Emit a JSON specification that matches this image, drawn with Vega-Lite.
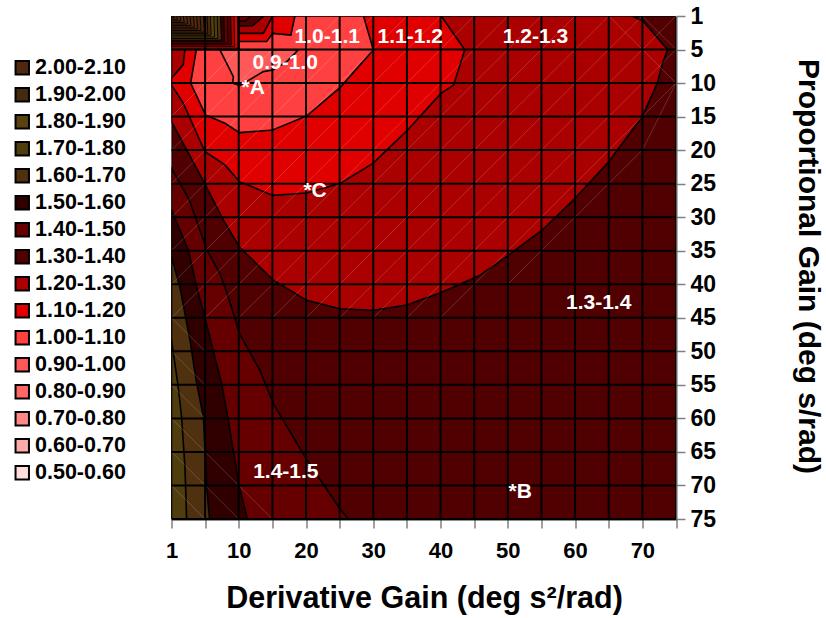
{"$schema":"https://vega.github.io/schema/vega-lite/v6.json","autosize":"none","width":504.5,"height":503,"padding":{"left":171.5,"top":16,"right":150,"bottom":99},"background":"white","view":{"stroke":null},
"config":{"font":"Liberation Sans"},
"datasets":{
"contours":[
{"p":"bg","b":"1.30-1.40","x":1,"y":1},{"p":"bg","b":"1.30-1.40","x":75,"y":1},{"p":"bg","b":"1.30-1.40","x":75,"y":75},{"p":"bg","b":"1.30-1.40","x":1,"y":75},
{"p":"l14","b":"1.40-1.50","x":1,"y":22.7},{"p":"l14","b":"1.40-1.50","x":3.12,"y":27.45},{"p":"l14","b":"1.40-1.50","x":5.25,"y":34.9},{"p":"l14","b":"1.40-1.50","x":7.2,"y":38.4},{"p":"l14","b":"1.40-1.50","x":8.45,"y":41.9},{"p":"l14","b":"1.40-1.50","x":10.1,"y":47.35},{"p":"l14","b":"1.40-1.50","x":13.15,"y":52.85},{"p":"l14","b":"1.40-1.50","x":15.15,"y":57.8},{"p":"l14","b":"1.40-1.50","x":19.85,"y":65.75},{"p":"l14","b":"1.40-1.50","x":25.05,"y":73.5},{"p":"l14","b":"1.40-1.50","x":26.3,"y":75},{"p":"l14","b":"1.40-1.50","x":1,"y":75},
{"p":"l15","b":"1.50-1.60","x":1,"y":28.95},{"p":"l15","b":"1.50-1.60","x":3,"y":34.9},{"p":"l15","b":"1.50-1.60","x":4,"y":40.4},{"p":"l15","b":"1.50-1.60","x":5,"y":45.1},{"p":"l15","b":"1.50-1.60","x":6.25,"y":50.1},{"p":"l15","b":"1.50-1.60","x":7.45,"y":54.8},{"p":"l15","b":"1.50-1.60","x":8.45,"y":60.3},{"p":"l15","b":"1.50-1.60","x":10.1,"y":70.25},{"p":"l15","b":"1.50-1.60","x":11.3,"y":75},{"p":"l15","b":"1.50-1.60","x":1,"y":75},
{"p":"l16","b":"1.60-1.70","x":1,"y":35.9},{"p":"l16","b":"1.60-1.70","x":2,"y":40.4},{"p":"l16","b":"1.60-1.70","x":3.2,"y":48.35},{"p":"l16","b":"1.60-1.70","x":4,"y":54.8},{"p":"l16","b":"1.60-1.70","x":4.8,"y":59.8},{"p":"l16","b":"1.60-1.70","x":5.25,"y":70.25},{"p":"l16","b":"1.60-1.70","x":5.65,"y":75},{"p":"l16","b":"1.60-1.70","x":1,"y":75},
{"p":"l17","b":"1.70-1.80","x":1,"y":48.35},{"p":"l17","b":"1.70-1.80","x":1.8,"y":55.3},{"p":"l17","b":"1.70-1.80","x":2.2,"y":59.8},{"p":"l17","b":"1.70-1.80","x":2.6,"y":67.25},{"p":"l17","b":"1.70-1.80","x":2.8,"y":75},{"p":"l17","b":"1.70-1.80","x":1,"y":75},
{"p":"l13","b":"1.20-1.30","x":1,"y":15.75},{"p":"l13","b":"1.20-1.30","x":4.96,"y":25},{"p":"l13","b":"1.20-1.30","x":7.7,"y":30.4},{"p":"l13","b":"1.20-1.30","x":10.1,"y":34.45},{"p":"l13","b":"1.20-1.30","x":15.15,"y":39.4},{"p":"l13","b":"1.20-1.30","x":20.1,"y":42.4},{"p":"l13","b":"1.20-1.30","x":25.05,"y":43.65},{"p":"l13","b":"1.20-1.30","x":30,"y":43.9},{"p":"l13","b":"1.20-1.30","x":35,"y":43.1},{"p":"l13","b":"1.20-1.30","x":40,"y":41.25},{"p":"l13","b":"1.20-1.30","x":45.9,"y":38.65},{"p":"l13","b":"1.20-1.30","x":50.1,"y":35.65},{"p":"l13","b":"1.20-1.30","x":55.1,"y":31.95},{"p":"l13","b":"1.20-1.30","x":60,"y":27.2},{"p":"l13","b":"1.20-1.30","x":65,"y":21.75},{"p":"l13","b":"1.20-1.30","x":70,"y":15},{"p":"l13","b":"1.20-1.30","x":72.2,"y":10.05},{"p":"l13","b":"1.20-1.30","x":73,"y":7.05},{"p":"l13","b":"1.20-1.30","x":73.75,"y":5.05},{"p":"l13","b":"1.20-1.30","x":70.2,"y":1.68},{"p":"l13","b":"1.20-1.30","x":68.5,"y":1},{"p":"l13","b":"1.20-1.30","x":1,"y":1},
{"p":"l12","b":"1.10-1.20","x":1,"y":10.3},{"p":"l12","b":"1.10-1.20","x":2.4,"y":13},{"p":"l12","b":"1.10-1.20","x":4.96,"y":20.2},{"p":"l12","b":"1.10-1.20","x":7.95,"y":22.2},{"p":"l12","b":"1.10-1.20","x":10.1,"y":24.7},{"p":"l12","b":"1.10-1.20","x":15.05,"y":26.75},{"p":"l12","b":"1.10-1.20","x":20.1,"y":26.4},{"p":"l12","b":"1.10-1.20","x":25.1,"y":24.95},{"p":"l12","b":"1.10-1.20","x":30,"y":21.95},{"p":"l12","b":"1.10-1.20","x":35.1,"y":17},{"p":"l12","b":"1.10-1.20","x":40.1,"y":11.5},{"p":"l12","b":"1.10-1.20","x":41.95,"y":10.3},{"p":"l12","b":"1.10-1.20","x":43.6,"y":5.05},{"p":"l12","b":"1.10-1.20","x":40.1,"y":1},{"p":"l12","b":"1.10-1.20","x":10,"y":1},{"p":"l12","b":"1.10-1.20","x":10,"y":5},{"p":"l12","b":"1.10-1.20","x":2.6,"y":5},{"p":"l12","b":"1.10-1.20","x":2.4,"y":7.25},{"p":"l12","b":"1.10-1.20","x":1,"y":9.3},
{"p":"l11","b":"1.00-1.10","x":3.28,"y":10},{"p":"l11","b":"1.00-1.10","x":5.05,"y":14.75},{"p":"l11","b":"1.00-1.10","x":7.95,"y":16},{"p":"l11","b":"1.00-1.10","x":10.1,"y":17.4},{"p":"l11","b":"1.00-1.10","x":15.05,"y":17},{"p":"l11","b":"1.00-1.10","x":20.1,"y":14.9},{"p":"l11","b":"1.00-1.10","x":25.1,"y":10.65},{"p":"l11","b":"1.00-1.10","x":30,"y":5.05},{"p":"l11","b":"1.00-1.10","x":28.55,"y":1},{"p":"l11","b":"1.00-1.10","x":10,"y":1},{"p":"l11","b":"1.00-1.10","x":10,"y":5},{"p":"l11","b":"1.00-1.10","x":3.96,"y":5},
{"p":"l10","b":"0.90-1.00","x":7.2,"y":5.05},{"p":"l10","b":"0.90-1.00","x":9.2,"y":9.05},{"p":"l10","b":"0.90-1.00","x":9.1,"y":10},{"p":"l10","b":"0.90-1.00","x":10.1,"y":10.4},{"p":"l10","b":"0.90-1.00","x":11.65,"y":9.5},{"p":"l10","b":"0.90-1.00","x":13.65,"y":8.3},{"p":"l10","b":"0.90-1.00","x":15.05,"y":8.05},{"p":"l10","b":"0.90-1.00","x":17.15,"y":6.8},{"p":"l10","b":"0.90-1.00","x":18.85,"y":5.05},
{"p":"t1","b":"1.10-1.20","x":10,"y":4.04},{"p":"t1","b":"1.10-1.20","x":14.15,"y":4.04},{"p":"t1","b":"1.10-1.20","x":15.05,"y":3.08},{"p":"t1","b":"1.10-1.20","x":17.75,"y":3.28},{"p":"t1","b":"1.10-1.20","x":18.35,"y":1},{"p":"t1","b":"1.10-1.20","x":10,"y":1},
{"p":"t2","b":"1.20-1.30","x":10,"y":3.08},{"p":"t2","b":"1.20-1.30","x":13.65,"y":3.08},{"p":"t2","b":"1.20-1.30","x":15.05,"y":1},{"p":"t2","b":"1.20-1.30","x":10,"y":1},
{"p":"t3","b":"1.30-1.40","x":10,"y":2.2},{"p":"t3","b":"1.30-1.40","x":12,"y":2.2},{"p":"t3","b":"1.30-1.40","x":13.75,"y":1},{"p":"t3","b":"1.30-1.40","x":10,"y":1},
{"p":"t4","b":"1.40-1.50","x":10,"y":1.6},{"p":"t4","b":"1.40-1.50","x":11,"y":1.6},{"p":"t4","b":"1.40-1.50","x":11.75,"y":1},{"p":"t4","b":"1.40-1.50","x":10,"y":1},
{"p":"base","b":"1.00-1.10","x":1,"y":1},{"p":"base","b":"1.00-1.10","x":10,"y":1},{"p":"base","b":"1.00-1.10","x":10,"y":5},{"p":"base","b":"1.00-1.10","x":1,"y":5}
],
"chev":[
{"p":"c0","b":"1.10-1.20","x":1,"y":1},{"p":"c0","b":"1.10-1.20","x":9.8,"y":1},{"p":"c0","b":"1.10-1.20","x":9.9,"y":4.84},{"p":"c0","b":"1.10-1.20","x":1,"y":4.84},
{"p":"c1","b":"1.20-1.30","x":1,"y":1},{"p":"c1","b":"1.20-1.30","x":9.3,"y":1},{"p":"c1","b":"1.20-1.30","x":9.4,"y":4.65},{"p":"c1","b":"1.20-1.30","x":1,"y":4.65},
{"p":"c2","b":"1.30-1.40","x":1,"y":1},{"p":"c2","b":"1.30-1.40","x":8.8,"y":1},{"p":"c2","b":"1.30-1.40","x":8.9,"y":4.46},{"p":"c2","b":"1.30-1.40","x":1,"y":4.46},
{"p":"c3","b":"1.40-1.50","x":1,"y":1},{"p":"c3","b":"1.40-1.50","x":8.3,"y":1},{"p":"c3","b":"1.40-1.50","x":8.4,"y":4.26},{"p":"c3","b":"1.40-1.50","x":1,"y":4.26},
{"p":"c4","b":"1.50-1.60","x":1,"y":1},{"p":"c4","b":"1.50-1.60","x":7.8,"y":1},{"p":"c4","b":"1.50-1.60","x":7.9,"y":4.07},{"p":"c4","b":"1.50-1.60","x":1,"y":4.07},
{"p":"c5","b":"1.60-1.70","x":1,"y":1},{"p":"c5","b":"1.60-1.70","x":7.3,"y":1},{"p":"c5","b":"1.60-1.70","x":7.4,"y":3.88},{"p":"c5","b":"1.60-1.70","x":1,"y":3.88},
{"p":"c6","b":"1.70-1.80","x":1,"y":1},{"p":"c6","b":"1.70-1.80","x":6.8,"y":1},{"p":"c6","b":"1.70-1.80","x":6.9,"y":3.69},{"p":"c6","b":"1.70-1.80","x":1,"y":3.69},
{"p":"c7","b":"1.80-1.90","x":1,"y":1},{"p":"c7","b":"1.80-1.90","x":6.3,"y":1},{"p":"c7","b":"1.80-1.90","x":6.4,"y":3.5},{"p":"c7","b":"1.80-1.90","x":1,"y":3.5},
{"p":"c8","b":"1.90-2.00","x":1,"y":1},{"p":"c8","b":"1.90-2.00","x":5.8,"y":1},{"p":"c8","b":"1.90-2.00","x":5.9,"y":3.3},{"p":"c8","b":"1.90-2.00","x":1,"y":3.3},
{"p":"c9","b":"2.00-2.10","x":1,"y":1},{"p":"c9","b":"2.00-2.10","x":5.3,"y":1},{"p":"c9","b":"2.00-2.10","x":5.4,"y":3.11},{"p":"c9","b":"2.00-2.10","x":1,"y":3.11},
{"p":"c10","b":"2.00-2.10","x":1,"y":1},{"p":"c10","b":"2.00-2.10","x":4.8,"y":1},{"p":"c10","b":"2.00-2.10","x":4.92,"y":2.92},{"p":"c10","b":"2.00-2.10","x":1,"y":2.92},
{"p":"c11","b":"2.00-2.10","x":1,"y":1},{"p":"c11","b":"2.00-2.10","x":4.4,"y":1},{"p":"c11","b":"2.00-2.10","x":4.52,"y":2.73},{"p":"c11","b":"2.00-2.10","x":1,"y":2.73},
{"p":"c12","b":"2.00-2.10","x":1,"y":1},{"p":"c12","b":"2.00-2.10","x":4,"y":1},{"p":"c12","b":"2.00-2.10","x":4.12,"y":2.54},{"p":"c12","b":"2.00-2.10","x":1,"y":2.54},
{"p":"c13","b":"2.00-2.10","x":1,"y":1},{"p":"c13","b":"2.00-2.10","x":3.6,"y":1},{"p":"c13","b":"2.00-2.10","x":3.72,"y":2.34},{"p":"c13","b":"2.00-2.10","x":1,"y":2.34},
{"p":"c14","b":"2.00-2.10","x":1,"y":1},{"p":"c14","b":"2.00-2.10","x":3.2,"y":1},{"p":"c14","b":"2.00-2.10","x":3.32,"y":2.15},{"p":"c14","b":"2.00-2.10","x":1,"y":2.15},
{"p":"c15","b":"2.00-2.10","x":1,"y":1},{"p":"c15","b":"2.00-2.10","x":2.8,"y":1},{"p":"c15","b":"2.00-2.10","x":2.92,"y":1.96},{"p":"c15","b":"2.00-2.10","x":1,"y":1.96},
{"p":"c16","b":"2.00-2.10","x":1,"y":1},{"p":"c16","b":"2.00-2.10","x":2.4,"y":1},{"p":"c16","b":"2.00-2.10","x":2.52,"y":1.77},{"p":"c16","b":"2.00-2.10","x":1,"y":1.77},
{"p":"c17","b":"2.00-2.10","x":1,"y":1},{"p":"c17","b":"2.00-2.10","x":2,"y":1},{"p":"c17","b":"2.00-2.10","x":2.12,"y":1.58},{"p":"c17","b":"2.00-2.10","x":1,"y":1.58},
{"p":"c18","b":"2.00-2.10","x":1,"y":1},{"p":"c18","b":"2.00-2.10","x":1.6,"y":1},{"p":"c18","b":"2.00-2.10","x":1.72,"y":1.38},{"p":"c18","b":"2.00-2.10","x":1,"y":1.38},
{"p":"c19","b":"2.00-2.10","x":1,"y":1},{"p":"c19","b":"2.00-2.10","x":1.2,"y":1},{"p":"c19","b":"2.00-2.10","x":1.32,"y":1.19},{"p":"c19","b":"2.00-2.10","x":1,"y":1.19}
],
"gridx":[{"v":5},{"v":10},{"v":15},{"v":20},{"v":25},{"v":30},{"v":35},{"v":40},{"v":45},{"v":50},{"v":55},{"v":60},{"v":65},{"v":70}],
"gridy":[{"v":5},{"v":10},{"v":15},{"v":20},{"v":25},{"v":30},{"v":35},{"v":40},{"v":45},{"v":50},{"v":55},{"v":60},{"v":65},{"v":70},{"v":75}],
"diag":[
{"x":1,"y":15,"x2":10,"y2":5},{"x":1,"y":20,"x2":15,"y2":5},{"x":1,"y":25,"x2":25,"y2":1},{"x":1,"y":30,"x2":30,"y2":1},{"x":1,"y":35,"x2":35,"y2":1},{"x":1,"y":40,"x2":40,"y2":1},{"x":1,"y":45,"x2":45,"y2":1},
{"x":5,"y":45,"x2":50,"y2":1},{"x":10,"y":45,"x2":55,"y2":1},{"x":15,"y":45,"x2":60,"y2":1},{"x":20,"y":45,"x2":65,"y2":1},{"x":25,"y":45,"x2":70,"y2":1},{"x":30,"y":45,"x2":75,"y2":1},{"x":35,"y":45,"x2":75,"y2":5},{"x":40,"y":45,"x2":75,"y2":10},
{"x":50,"y":40,"x2":70,"y2":20},{"x":70,"y":20,"x2":75,"y2":10},
{"x":65,"y":1,"x2":75,"y2":10},{"x":70,"y":1,"x2":75,"y2":5},
{"x":1,"y":45,"x2":5,"y2":50},{"x":1,"y":50,"x2":5,"y2":55},{"x":1,"y":55,"x2":5,"y2":60},{"x":1,"y":60,"x2":5,"y2":65},{"x":1,"y":65,"x2":5,"y2":70},{"x":1,"y":70,"x2":5,"y2":75},{"x":5,"y":65,"x2":15,"y2":75},{"x":5,"y":70,"x2":10,"y2":75}
],
"labels":[
{"t":"1.0-1.1","x":23.15,"y":3.5},{"t":"1.1-1.2","x":35.5,"y":3.5},{"t":"1.2-1.3","x":54.1,"y":3.5},{"t":"0.9-1.0","x":16.9,"y":7},{"t":"*A","x":12.15,"y":10.75},{"t":"*C","x":21.35,"y":26.1},{"t":"*B","x":51.85,"y":71},{"t":"1.3-1.4","x":63.5,"y":42.85},{"t":"1.4-1.5","x":17,"y":68}
]},
"encoding":{},
"layer":[
{"data":{"name":"contours"},"mark":{"type":"line","stroke":"black","strokeWidth":1.6,"interpolate":"linear-closed","clip":true},
"encoding":{"x":{"field":"x","type":"quantitative","scale":{"domain":[1,5,75],"range":[0,33.6,504.5],"nice":false,"zero":false},
"axis":{"values":[1,5,10,15,20,25,30,35,40,45,50,55,60,65,70,75],"tickCount":16,"labelExpr":"(datum.value==1||(datum.value%10==0))?datum.label:''","grid":false,"title":"Derivative Gain (deg s²/rad)","titleFontSize":30.5,"titleFontWeight":"bold","titleColor":"black","titleBaseline":"alphabetic","titleX":252.5,"titleY":88,"labelFontSize":22,"labelFontWeight":"bold","labelColor":"black","labelPadding":12,"labelOverlap":false,"labelBound":false,"labelFlush":false,"tickSize":9,"tickColor":"#808080","tickWidth":1.5,"domainColor":"#202020","domainWidth":2}},
"y":{"field":"y","type":"quantitative","scale":{"domain":[1,5,75],"range":[0,33.5,503],"nice":false,"zero":false},
"axis":{"orient":"right","values":[1,5,10,15,20,25,30,35,40,45,50,55,60,65,70,75],"tickCount":16,"grid":false,"title":"Proportional Gain (deg s/rad)","titleFontSize":30,"titleFontWeight":"bold","titleColor":"black","titleBaseline":"middle","titleX":131,"titleY":250,"titleAngle":90,"labelFontSize":23,"labelFontWeight":"bold","labelColor":"black","labelPadding":5,"labelOverlap":false,"labelBound":false,"labelFlush":false,"tickSize":9,"tickColor":"#808080","tickWidth":1.5,"domainColor":"#606060","domainWidth":2}},
"detail":{"field":"p"},"order":{"value":null},
"fill":{"field":"b","type":"nominal","scale":{"domain":["2.00-2.10","1.90-2.00","1.80-1.90","1.70-1.80","1.60-1.70","1.50-1.60","1.40-1.50","1.30-1.40","1.20-1.30","1.10-1.20","1.00-1.10","0.90-1.00","0.80-0.90","0.70-0.80","0.60-0.70","0.50-0.60"],"range":["#50280f","#452a10","#5a4210","#4f3d0e","#4f300f","#300000","#660000","#500000","#aa0000","#e00000","#ff4040","#ff5858","#ff6666","#ff8888","#ffaaaa","#ffdddd"]},
"legend":{"title":null,"orient":"none","legendX":-160,"legendY":41,"symbolType":"square","symbolSize":180,"symbolStrokeColor":"black","symbolStrokeWidth":2,"symbolOpacity":1,"labelFontSize":21.5,"labelFontWeight":"bold","labelColor":"black","rowPadding":4,"labelOffset":2,"padding":0,"labelLimit":200}}}},
{"data":{"name":"chev"},"mark":{"type":"line","stroke":"black","strokeWidth":0.9,"interpolate":"linear-closed","clip":true},"encoding":{"x":{"field":"x","type":"quantitative"},"y":{"field":"y","type":"quantitative"},"detail":{"field":"p"},"order":{"value":null},"fill":{"field":"b","type":"nominal"}}},
{"data":{"name":"diag"},"mark":{"type":"rule","stroke":"white","strokeWidth":0.7,"opacity":0.25,"clip":true},"encoding":{"x":{"field":"x","type":"quantitative"},"y":{"field":"y","type":"quantitative"},"x2":{"field":"x2"},"y2":{"field":"y2"}}},
{"data":{"name":"gridx"},"mark":{"type":"rule","stroke":"black","strokeWidth":2},"encoding":{"x":{"field":"v","type":"quantitative"}}},
{"data":{"name":"gridy"},"mark":{"type":"rule","stroke":"black","strokeWidth":2},"encoding":{"y":{"field":"v","type":"quantitative"}}},
{"data":{"name":"labels"},"mark":{"type":"text","color":"white","fontSize":21,"fontWeight":"bold","font":"Liberation Sans"},"encoding":{"x":{"field":"x","type":"quantitative"},"y":{"field":"y","type":"quantitative"},"text":{"field":"t"}}}
]}
